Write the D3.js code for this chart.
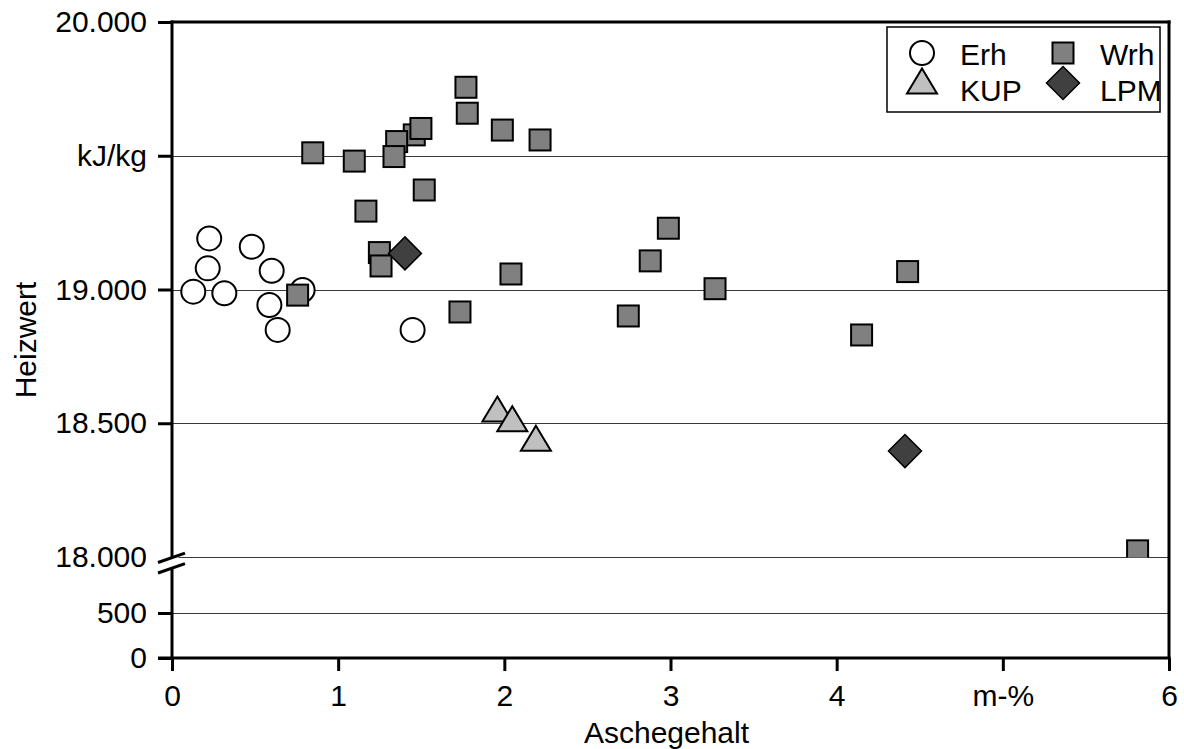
<!DOCTYPE html>
<html>
<head>
<meta charset="utf-8">
<script src="https://cdn.jsdelivr.net/npm/d3@7/dist/d3.min.js"></script>
<style>
  html, body { margin: 0; padding: 0; background: #fff; }
  svg { display: block; font-family: "Liberation Sans", Arial, sans-serif; }
</style>
</head>
<body>
<svg id="chart" width="1184" height="749"></svg>
<script>
// ---- data ----
const erhX = [0.224, 0.215, 0.128, 0.315, 0.48, 0.60, 0.586, 0.636, 0.786, 1.448];
const erhY = [19191, 19079, 18992, 18986, 19160, 19070, 18942, 18849, 18998, 18849];

const wrhX = [0.756, 0.847, 1.097, 1.167, 1.248, 1.258, 1.458, 1.352, 1.336, 1.498, 1.518, 1.733,
              1.769, 1.777, 1.988, 2.04, 2.215, 2.746, 2.878, 2.987, 3.268, 4.15, 4.427, 5.811];
const wrhY = [18979, 19511, 19480, 19293, 19138, 19088, 19578, 19553, 19497, 19602, 19372, 18916,
              19756, 19659, 19596, 19058, 19559, 18901, 19107, 19229, 19003, 18830, 19067, 18023];

const kupX = [1.958, 2.048, 2.19];
const kupY = [18553, 18517, 18444];

const lpmX = [1.402, 4.411];
const lpmY = [19135, 18396];

const xTickValues = [0, 1, 2, 3, 4, 5, 6];
const xTickLabels = ["0", "1", "2", "3", "4", "m-%", "6"];
const yTickValues = [0, 500, 18000, 18500, 19000, 19500, 20000];
const yTickLabels = ["0", "500", "18.000", "18.500", "19.000", "kJ/kg", "20.000"];
const gridValues = [500, 18000, 18500, 19000, 19500];

const seriesNames = ["Erh", "Wrh", "KUP", "LPM"];
const xTitle = "Aschegehalt";
const yTitle = "Heizwert";

// ---- layout ----
const svg = d3.select("#chart");
const L = 172, R = 1169, T = 22, B = 658;
const FS = 30;

const x = d3.scaleLinear().domain([0, 6]).range([L, R]);
// broken axis: lower part 0..500, upper part 18000..20000
const y = d3.scaleLinear().domain([0, 500, 18000, 20000]).range([B, 613, 557, T]);

// gridlines
svg.append("g").selectAll("line").data(gridValues).join("line")
  .attr("x1", L).attr("x2", R)
  .attr("y1", d => Math.round(y(d)) + 0.5).attr("y2", d => Math.round(y(d)) + 0.5)
  .attr("stroke", "#3a3a3a").attr("stroke-width", 1);

// clip for markers (upper panel)
svg.append("defs").append("clipPath").attr("id", "clipUp")
  .append("rect").attr("x", L).attr("y", 0).attr("width", R - L).attr("height", y(18000) - 0 + 0.5);

const marks = svg.append("g").attr("clip-path", "url(#clipUp)");

function trianglePath(w, h) {
  return `M0,${-h/2}L${w/2},${h/2}L${-w/2},${h/2}Z`;
}
function diamondPath(r) {
  return `M0,${-r}L${r},0L0,${r}L${-r},0Z`;
}

// Erh circles
marks.append("g").selectAll("circle").data(d3.range(erhX.length)).join("circle")
  .attr("cx", i => x(erhX[i])).attr("cy", i => y(erhY[i])).attr("r", 12)
  .attr("fill", "#fff").attr("stroke", "#000").attr("stroke-width", 2);

// Wrh squares
const sq = 21;
marks.append("g").selectAll("rect").data(d3.range(wrhX.length)).join("rect")
  .attr("x", i => x(wrhX[i]) - sq / 2).attr("y", i => y(wrhY[i]) - sq / 2)
  .attr("width", sq).attr("height", sq)
  .attr("fill", "#808080").attr("stroke", "#000").attr("stroke-width", 2);

// KUP triangles
marks.append("g").selectAll("path").data(d3.range(kupX.length)).join("path")
  .attr("transform", i => `translate(${x(kupX[i])},${y(kupY[i])})`)
  .attr("d", trianglePath(30, 25))
  .attr("fill", "#c0c0c0").attr("stroke", "#000").attr("stroke-width", 2).attr("stroke-linejoin", "miter");

// LPM diamonds
marks.append("g").selectAll("path").data(d3.range(lpmX.length)).join("path")
  .attr("transform", i => `translate(${x(lpmX[i])},${y(lpmY[i])})`)
  .attr("d", diamondPath(16.5))
  .attr("fill", "#404040").attr("stroke", "#000").attr("stroke-width", 1.5);

// ---- frame / axis lines ----
const frame = svg.append("g").attr("stroke", "#000").attr("stroke-width", 3).attr("fill", "none");
frame.append("line").attr("x1", L).attr("x2", L).attr("y1", T - 1.5).attr("y2", B);          // left axis
frame.append("line").attr("x1", L - 1.5).attr("x2", R + 1.5).attr("y1", T).attr("y2", T);    // top border
frame.append("line").attr("x1", R).attr("x2", R).attr("y1", T - 1.5).attr("y2", B);          // right border
frame.append("line").attr("x1", L - 14).attr("x2", R + 1.5).attr("y1", B).attr("y2", B);     // bottom axis

// ---- y axis ticks & labels ----
const yAxis = d3.axisLeft(y).tickValues(yTickValues)
  .tickFormat((d, i) => yTickLabels[i]).tickSize(14).tickPadding(11);
const gY = svg.append("g").attr("transform", `translate(${L},0)`).call(yAxis);
gY.select(".domain").remove();
gY.selectAll(".tick line").attr("stroke", "#000").attr("stroke-width", 3)
  .filter(d => d === 18000).remove();
gY.selectAll(".tick text").attr("fill", "#000").style("font-size", FS + "px")
  .style("font-family", '"Liberation Sans", Arial, sans-serif');

// ---- x axis ticks & labels ----
const xAxis = d3.axisBottom(x).tickValues(xTickValues)
  .tickFormat((d, i) => xTickLabels[i]).tickSize(13).tickPadding(14);
const gX = svg.append("g").attr("transform", `translate(0,${B})`).call(xAxis);
gX.select(".domain").remove();
gX.selectAll(".tick line").attr("stroke", "#000").attr("stroke-width", 3);
gX.selectAll(".tick text").attr("fill", "#000").style("font-size", FS + "px")
  .style("font-family", '"Liberation Sans", Arial, sans-serif');

// ---- axis break marks ----
const yb = y(18000) + 0.8, slope = 0.35, gap = 10.5, cx = L - 0.5;
const yl = (k, xx) => yb + k * gap - slope * (xx - cx);
svg.append("path")
  .attr("d", `M${cx - 7},${yl(0, cx - 7)}L${cx + 7},${yl(0, cx + 7)}L${cx + 7},${yl(1, cx + 7)}L${cx - 7},${yl(1, cx - 7)}Z`)
  .attr("fill", "#fff");
[0, 1].forEach(k => {
  svg.append("line")
    .attr("x1", cx - 13.5).attr("y1", yl(k, cx - 13.5))
    .attr("x2", cx + 13.5).attr("y2", yl(k, cx + 13.5))
    .attr("stroke", "#000").attr("stroke-width", 3);
});

// ---- axis titles ----
svg.append("text").attr("x", (L + R) / 2 - 4).attr("y", 743)
  .attr("text-anchor", "middle").style("font-size", FS + "px").attr("fill", "#000").text(xTitle);
svg.append("text").attr("transform", `translate(36,${(T + B) / 2}) rotate(-90)`)
  .attr("text-anchor", "middle").style("font-size", FS + "px").attr("fill", "#000").text(yTitle);

// ---- legend ----
const lg = svg.append("g");
lg.append("rect").attr("x", 887).attr("y", 27).attr("width", 273).attr("height", 85)
  .attr("fill", "#fff").attr("stroke", "#000").attr("stroke-width", 1.5);
lg.append("circle").attr("cx", 922).attr("cy", 53).attr("r", 12)
  .attr("fill", "#fff").attr("stroke", "#000").attr("stroke-width", 2);
lg.append("rect").attr("x", 1063 - sq / 2).attr("y", 53 - sq / 2).attr("width", sq).attr("height", sq)
  .attr("fill", "#808080").attr("stroke", "#000").attr("stroke-width", 2);
lg.append("path").attr("transform", "translate(922,81)").attr("d", trianglePath(30, 25))
  .attr("fill", "#c0c0c0").attr("stroke", "#000").attr("stroke-width", 2);
lg.append("path").attr("transform", "translate(1063,83)").attr("d", diamondPath(16.5))
  .attr("fill", "#404040").attr("stroke", "#000").attr("stroke-width", 1.5);
const legPos = [[960, 65], [1100, 65], [960, 101], [1100, 101]];
seriesNames.forEach((n, i) => {
  lg.append("text").attr("x", legPos[i][0]).attr("y", legPos[i][1])
    .style("font-size", FS + "px").attr("fill", "#000").text(n);
});
</script>
</body>
</html>
